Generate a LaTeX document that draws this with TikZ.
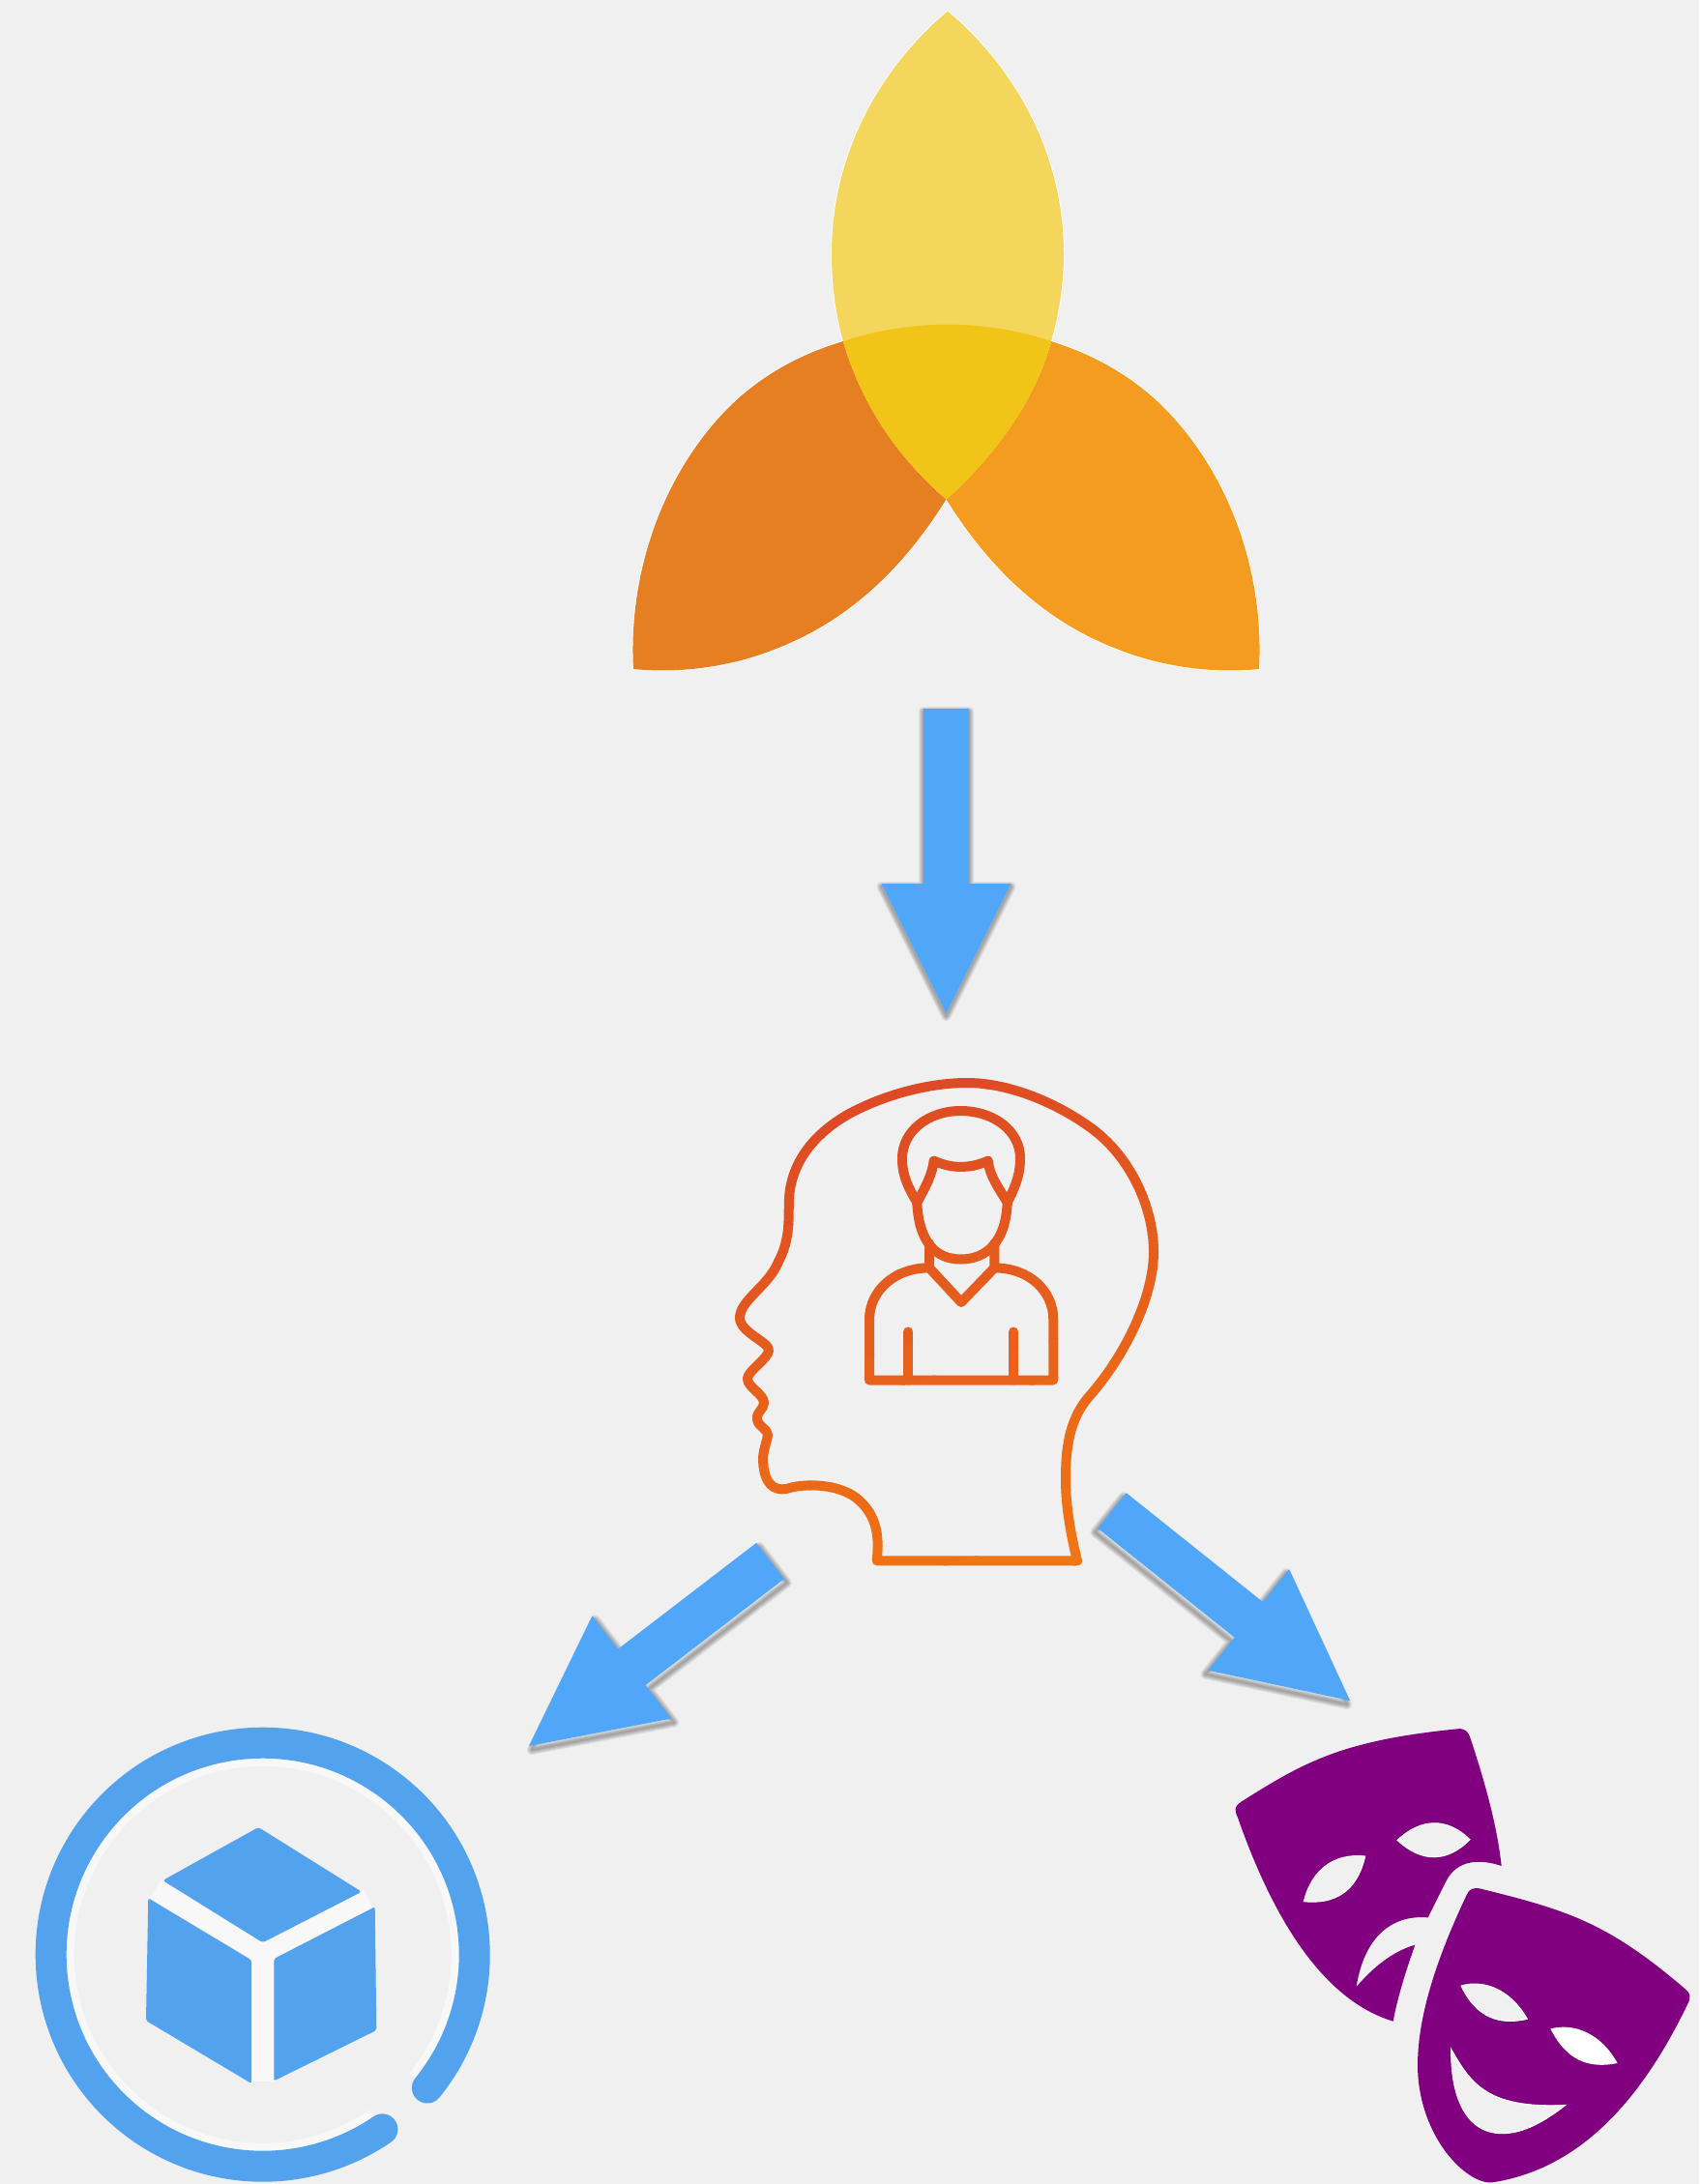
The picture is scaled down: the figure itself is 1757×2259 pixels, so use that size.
\documentclass[tikz,border=0pt]{standalone}
\usetikzlibrary{calc}
\definecolor{pagegrey}{HTML}{F0F0F0}
\definecolor{arrowblue}{HTML}{50A6F9}
\definecolor{ringblue}{HTML}{53A2EE}
\definecolor{cubegap}{HTML}{F8F8F8}
\definecolor{petalleft}{HTML}{E67E22}
\definecolor{petalright}{HTML}{F39C1F}
\definecolor{petaltop}{HTML}{F4D65C}
\definecolor{petalmid}{HTML}{F1C517}
\definecolor{headred}{HTML}{DC4826}
\definecolor{headorange}{HTML}{F17612}
\definecolor{maskpurple}{HTML}{800080}
\tikzset{headline/.style={line width=10pt,line cap=round,line join=round},
  hole/.style={fill=pagegrey,draw=white,line width=1pt}}
\newcommand\leftpetalpath{(655,692) .. controls (650,600) and (680,505) .. (740,436)
  .. controls (778,392) and (825,367) .. (872,353)
  .. controls (890,415) and (925,470) .. (978.5,516.5)
  .. controls (940,578) and (885,640) .. (800,672)
  .. controls (757,689) and (705,697) .. (655,692) -- cycle}
\newcommand\rightpetalpath{(1302,692) .. controls (1307,600) and (1277,505) .. (1217,436)
  .. controls (1179,392) and (1132,367) .. (1087,353)
  .. controls (1070,415) and (1030,470) .. (978.5,516.5)
  .. controls (1017,578) and (1072,640) .. (1157,672)
  .. controls (1200,689) and (1252,697) .. (1302,692) -- cycle}
\newcommand\toppetalpath{(980,11.5) .. controls (905,75) and (860,165) .. (860,262)
  .. controls (860,295) and (864,325) .. (872,353)
  .. controls (890,415) and (925,470) .. (978.5,516.5)
  .. controls (1030,470) and (1070,415) .. (1087,353)
  .. controls (1095,325) and (1100,295) .. (1100,262)
  .. controls (1100,165) and (1055,75) .. (980,11.5) -- cycle}
% #1 from, #2 tip, #3 and #4 the shift of the soft shadow
\newcommand\blockarrow[4]{
  \coordinate (base) at ($(#2)!134pt!(#1)$);
  \coordinate (s1) at ($(#1)!23.5pt!90:(#2)$);
  \coordinate (s2) at ($(#1)!23.5pt!-90:(#2)$);
  \coordinate (b1) at ($(base)!23.5pt!90:(#2)$);
  \coordinate (b2) at ($(base)!23.5pt!-90:(#2)$);
  \coordinate (h1) at ($(base)!67pt!90:(#2)$);
  \coordinate (h2) at ($(base)!67pt!-90:(#2)$);
  \begin{scope}[transform canvas={xshift=#3pt,yshift=#4pt}]
    \foreach \w in {2,4,6,8,10}{
      \draw[black,opacity=.07,line width=\w pt,line join=round]
        (s1) -- (b1) -- (h1) -- (#2) -- (h2) -- (b2) -- (s2) -- cycle;}
  \end{scope}
  \fill[arrowblue] (s1) -- (b1) -- (h1) -- (#2) -- (h2) -- (b2) -- (s2) -- cycle;}
\newcommand\headicon{
  \draw[headline] (906.7,1614.3) .. controls (910,1585) and (905,1565) .. (885,1549)
    .. controls (868,1536) and (835,1533) .. (813,1540)
    .. controls (800,1542) and (790,1535) .. (789,1510)
    .. controls (789,1500) and (793,1492) .. (794,1484)
    .. controls (794,1478) and (784,1476) .. (783,1468)
    .. controls (782,1460) and (790,1458) .. (790,1451)
    .. controls (790,1442) and (773,1435) .. (773,1426)
    .. controls (773,1418) and (795,1405) .. (795,1396.4)
    .. controls (795,1388) and (765,1378) .. (765,1363)
    .. controls (765,1345) and (795,1330) .. (805,1305)
    .. controls (818,1280) and (815,1260) .. (816,1240)
    .. controls (818,1200) and (845,1170) .. (880,1151)
    .. controls (920,1130) and (965,1120) .. (1000,1120)
    .. controls (1045,1120) and (1095,1142) .. (1130,1168)
    .. controls (1170,1198) and (1193,1250) .. (1193,1295)
    .. controls (1193,1340) and (1165,1400) .. (1127,1443.6)
    .. controls (1105,1468) and (1102,1500) .. (1102,1530)
    .. controls (1102,1560) and (1108,1590) .. (1114,1614.3) -- cycle;
  % hair
  \draw[headline] (948.3,1243.6) .. controls (935,1222) and (933,1210) .. (933,1198)
    .. controls (933,1170) and (960,1149) .. (993.3,1149)
    .. controls (1028,1149) and (1055,1170) .. (1055,1198)
    .. controls (1055,1210) and (1053,1222) .. (1041.7,1243.6);
  \draw[headline] (948.3,1243.6) .. controls (957,1228) and (964,1215) .. (965.7,1200.7)
    .. controls (985,1209) and (1002,1209) .. (1021.7,1200.7)
    .. controls (1023,1215) and (1032,1228) .. (1041.7,1243.6);
  % face and neck
  \draw[headline] (948.3,1243.6) .. controls (950,1285) and (968,1302.5) .. (993.3,1302.5)
    .. controls (1020,1302.5) and (1040,1285) .. (1041.7,1243.6);
  \draw[headline] (961,1286) -- (961,1311.4) -- (994,1347) -- (1028.3,1311.4) -- (1028.3,1286);
  % body and arms
  \draw[headline] (961,1311.4) .. controls (925,1311.4) and (899,1335) .. (899,1365)
    -- (899,1427.5) -- (1089.3,1427.5) -- (1089.3,1365)
    .. controls (1089.3,1335) and (1064,1311.4) .. (1028.3,1311.4);
  \draw[headline] (939.3,1377.5) -- (939.3,1427.5);
  \draw[headline] (1048.3,1377.5) -- (1048.3,1427.5);}
\begin{document}
\begin{tikzpicture}[x=1pt,y=-1pt]
\useasboundingbox (0,0) rectangle (1757,2259);
\fill[pagegrey] (0,0) rectangle (1757,2259);
% flower
\foreach \p in {\leftpetalpath,\rightpetalpath,\toppetalpath}{\draw[white,line width=1.6pt] \p;}
\fill[petalleft] \leftpetalpath;
\fill[petalright] \rightpetalpath;
\fill[petaltop] \toppetalpath;
\fill[petalmid] (872,353) .. controls (940,330) and (1020,330) .. (1087,353)
  .. controls (1070,415) and (1030,470) .. (978.5,516.5)
  .. controls (925,470) and (890,415) .. (872,353) -- cycle;
% arrows
\coordinate (flowerout) at (978.5,733);
\coordinate (headin) at (978.5,1048);
\coordinate (cubeout) at (796.5,1614.5);
\coordinate (cubein) at (547,1806);
\coordinate (maskout) at (1150,1562.5);
\coordinate (maskin) at (1396,1759);
\blockarrow{flowerout}{headin}{0}{-3}
\blockarrow{cubeout}{cubein}{3}{-4}
\blockarrow{maskout}{maskin}{-3}{-4}
% head, coloured band by band
\foreach \b in {0,...,16}{
  \pgfmathsetmacro\ua{1090+40*\b}
  \pgfmathsetmacro\ub{\ua+41}
  \pgfmathsetmacro\ta{\ua-144}
  \pgfmathsetmacro\tb{\ub-144}
  \pgfmathsetmacro\mixval{max(0,min(100,100-(\ua+20-1160)/5.66))}
  \begin{scope}
    \clip (740,\ua) -- (1220,\ta) -- (1220,\tb) -- (740,\ub) -- cycle;
    \colorlet{headnow}{headred!\mixval!headorange}
    \begin{scope}[headnow]
      \headicon
    \end{scope}
  \end{scope}}
% cube in a ring
\coordinate (ringmid) at (271.7,2021.7);
\draw[cubegap,line width=8pt] (ringmid) ++(-39:199pt) arc[start angle=-39,end angle=304.4,radius=199pt];
\draw[ringblue,line width=32pt,line cap=round] (ringmid) ++(-39:219pt) arc[start angle=-39,end angle=304.4,radius=219pt];
\draw[cubegap,line width=23pt] (271.7,2020) -- (160.7,1954);
\draw[cubegap,line width=23pt] (271.7,2020) -- (381,1964.7);
\draw[cubegap,line width=23pt] (271.7,2020) -- (271.7,2153);
\fill[ringblue,rounded corners=3pt] (267.3,1890) -- (374,1956.7) -- (271.7,2009.3) -- (168.3,1945) -- cycle;
\fill[ringblue,rounded corners=2pt] (153.3,1963.3) -- (260,2027.3) -- (260,2155) -- (151,2090) -- cycle;
\fill[ringblue,rounded corners=2pt] (283.3,2026) -- (387.7,1972.3) -- (389.3,2100) -- (283.3,2152.3) -- cycle;
% masks
\begin{scope}[shift={(1250,1770)},scale=1/3]
  % sad mask
  \fill[maskpurple] (770,55) .. controls (795,52) and (805,62) .. (812,85)
    .. controls (860,230) and (895,360) .. (908,480)
    .. controls (850,460) and (770,455) .. (735,530)
    .. controls (715,570) and (695,610) .. (680,640)
    .. controls (560,630) and (480,710) .. (458,855)
    .. controls (510,795) and (570,745) .. (640,725)
    .. controls (610,810) and (585,890) .. (572,962)
    .. controls (400,910) and (230,730) .. (90,330)
    .. controls (75,300) and (85,290) .. (110,275)
    .. controls (300,155) and (420,90) .. (770,55) -- cycle;
  \draw[hole] (585,400) .. controls (660,330) and (740,330) .. (810,398)
    .. controls (740,470) and (660,470) .. (585,400) -- cycle;
  \draw[hole] (485,450) .. controls (390,440) and (320,490) .. (295,590)
    .. controls (390,600) and (460,560) .. (485,450) -- cycle;
  % happy mask
  \fill[maskpurple] (800,570) .. controls (808,552) and (820,545) .. (845,551)
    .. controls (1100,615) and (1230,650) .. (1470,855)
    .. controls (1495,875) and (1498,885) .. (1485,910)
    .. controls (1340,1210) and (1150,1420) .. (880,1462)
    .. controls (800,1470) and (650,1320) .. (648,1100)
    .. controls (648,930) and (720,740) .. (800,570) -- cycle;
  \draw[hole] (783,852) .. controls (860,830) and (940,870) .. (988,955)
    .. controls (900,975) and (830,950) .. (783,852) -- cycle;
  \fill[white] (1060,985) .. controls (1140,965) and (1220,1005) .. (1268,1092)
    .. controls (1180,1110) and (1110,1085) .. (1060,985) -- cycle;
  \draw[hole] (752,1048) .. controls (810,1150) and (860,1235) .. (1107,1222)
    .. controls (1020,1290) and (960,1310) .. (910,1310)
    .. controls (800,1310) and (750,1200) .. (752,1048) -- cycle;
\end{scope}
\end{tikzpicture}
\end{document}
